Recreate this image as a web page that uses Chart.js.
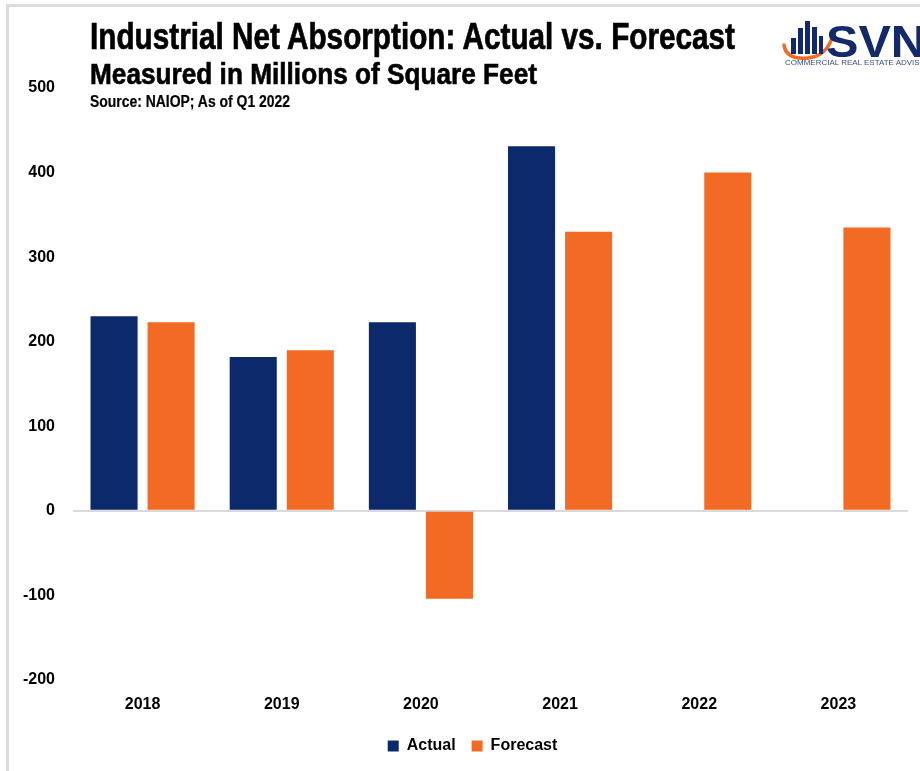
<!DOCTYPE html>
<html>
<head>
<meta charset="utf-8">
<script src="https://cdn.jsdelivr.net/npm/chart.js@4.4.0/dist/chart.umd.min.js"></script>
<style>
    html, body { margin: 0; padding: 0; background: #fff; }
    #painel { position: relative; width: 920px; height: 771px; overflow: hidden; }
    #moldura { position: absolute; left: 6px; top: 4px; width: 940px; height: 800px;
               border-left: 3px solid #dcdcdc; border-top: 3px solid #dcdcdc; }
    #grafico { position: absolute; left: 0; top: 0; }
    .texto { position: absolute; left: 90px; white-space: nowrap; color: #000; font-weight: bold;
             font-family: "Liberation Sans", Arial, sans-serif;
             transform-origin: 0 0; line-height: 1; }
    #titulo { top: 18px; font-size: 37px; -webkit-text-stroke: 0.7px #000; }
    #subtitulo { top: 60px; font-size: 29px; -webkit-text-stroke: 0.6px #000; }
    #fonte { top: 94px; font-size: 16px; -webkit-text-stroke: 0.2px #000; }
    #logo { position: absolute; left: 782px; top: 18px; }
</style>
</head>
<body>
<div id="painel">
    <div id="moldura"></div>
    <canvas id="grafico" width="920" height="771"></canvas>
    <div class="texto" id="titulo" data-largura="645">Industrial Net Absorption: Actual vs. Forecast</div>
    <div class="texto" id="subtitulo" data-largura="447">Measured in Millions of Square Feet</div>
    <div class="texto" id="fonte" data-largura="200">Source: NAIOP; As of Q1 2022</div>
    <svg id="logo" width="140" height="52" viewBox="0 0 140 52">
        <path d="M2,27 Q4,42 26,40 Q44,38 50,20" fill="none" stroke="#f26a23" stroke-width="3.5" stroke-linecap="round"/>
        <rect x="9" y="20" width="5" height="16" fill="#14296b"/>
        <rect x="16" y="10" width="5" height="26" fill="#14296b"/>
        <rect x="23" y="3" width="5" height="33" fill="#14296b"/>
        <rect x="30" y="9" width="5" height="27" fill="#14296b"/>
        <rect x="37" y="18" width="4" height="18" fill="#14296b"/>
        <text x="44" y="39" font-family="Liberation Sans, Arial, sans-serif" font-size="45" font-weight="bold" fill="#14296b" textLength="100" lengthAdjust="spacingAndGlyphs">SVN</text>
        <text x="3" y="47" font-family="Liberation Sans, Arial, sans-serif" font-size="6.5" fill="#3a4f8a" textLength="152" lengthAdjust="spacingAndGlyphs">COMMERCIAL REAL ESTATE ADVISORS</text>
    </svg>
</div>
<script>
// Dados (milhões de pés quadrados)
const anos = ['2018', '2019', '2020', '2021', '2022', '2023'];
const absorcaoReal = [230, 182, 223, 431, null, null];
const absorcaoPrevista = [223, 190, -104, 330, 400, 335];
const eixoMin = -200;
const eixoMax = 500;
const eixoPasso = 100;

// Cabeçalho em fonte "condensada": comprime na horizontal até a largura desejada
document.querySelectorAll('.texto').forEach(el => {
    const alvo = Number(el.dataset.largura);
    const largura = el.getBoundingClientRect().width;
    el.style.transform = `scaleX(${alvo / largura})`;
});

const fonteEixo = { family: '"Liberation Sans", Arial, sans-serif', size: 16, weight: 'bold' };

// Empurra a legenda um pouco para a direita
const deslocaLegenda = {
    id: 'deslocaLegenda',
    afterLayout(chart) {
        if (chart.legend) {
            chart.legend.left += 15;
            chart.legend.right += 15;
        }
    }
};

new Chart(document.getElementById('grafico'), {
    type: 'bar',
    data: {
        labels: anos,
        datasets: [{
            label: 'Actual',
            data: absorcaoReal,
            backgroundColor: '#0c296b',
            categoryPercentage: 0.82,
            barPercentage: 0.825
        }, {
            label: 'Forecast',
            data: absorcaoPrevista,
            backgroundColor: '#f26a23',
            categoryPercentage: 0.82,
            barPercentage: 0.825
        }]
    },
    options: {
        responsive: false,
        animation: false,
        layout: { padding: { left: 7, right: 12, top: 88, bottom: 7 } },
        plugins: {
            tooltip: { enabled: false },
            legend: {
                position: 'bottom',
                labels: {
                    color: '#000',
                    font: fonteEixo,
                    boxWidth: 11,
                    boxHeight: 11,
                    padding: 16
                }
            }
        },
        scales: {
            x: {
                grid: { display: false },
                border: { display: false },
                ticks: { color: '#000', font: fonteEixo, padding: 7 },
                afterFit: s => { s.height = 42; }
            },
            y: {
                min: eixoMin,
                max: eixoMax,
                border: { display: false },
                grid: {
                    drawTicks: false,
                    lineWidth: 2,
                    color: c => c.tick && c.tick.value === 0 ? '#d9d9d9' : 'rgba(0,0,0,0)'
                },
                ticks: { stepSize: eixoPasso, color: '#000', font: fonteEixo, padding: 18 },
                afterFit: s => { s.width = 66; }
            }
        }
    },
    plugins: [deslocaLegenda]
});
</script>
</body>
</html>
